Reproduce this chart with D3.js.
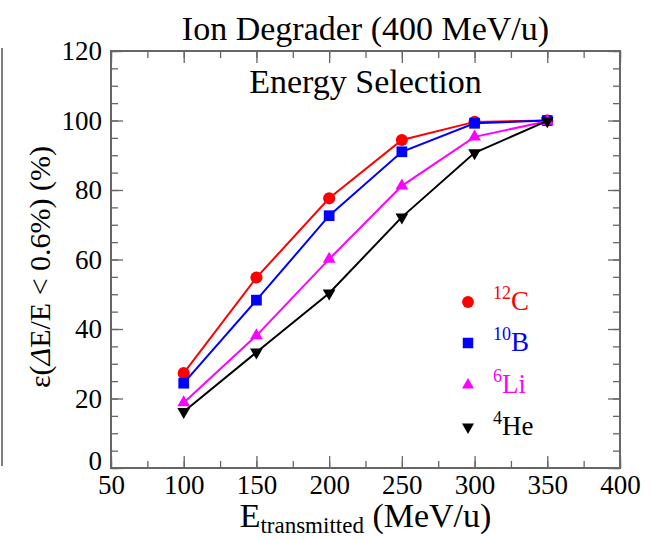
<!DOCTYPE html>
<html>
<head>
<meta charset="utf-8">
<script src="https://cdn.jsdelivr.net/npm/d3@7"></script>
<style>
  body { margin: 0; background: #fff; }
  #chart text { font-family: 'Liberation Serif', 'DejaVu Serif', serif; }
</style>
</head>
<body>
<svg id="chart" width="650" height="540"></svg>
<script>
// data
const energies = [100, 150, 200, 250, 300, 350]
const carbon   = [27.3, 54.8, 77.6, 94.4, 99.6, 100]
const boron    = [24.4, 48.3, 72.6, 91.0, 99.2, 100]
const lithium  = [18.8, 38.1, 60.1, 81.2, 95.3, 99.8]
const helium   = [16.2, 33.3, 50.3, 72.2, 90.7, 99.9]
const xTicks = [50, 100, 150, 200, 250, 300, 350, 400]
const yTicks = [0, 20, 40, 60, 80, 100, 120]

const series = [
  {mass: '12', el: 'C',  values: carbon,  color: '#ff0000', shape: d3.symbolCircle,   size: 115, rot: 0},
  {mass: '10', el: 'B',  values: boron,   color: '#0000ff', shape: d3.symbolSquare,   size: 115, rot: 0},
  {mass: '6',  el: 'Li', values: lithium, color: '#ff00ff', shape: d3.symbolTriangle, size: 70,  rot: 0},
  {mass: '4',  el: 'He', values: helium,  color: '#000000', shape: d3.symbolTriangle, size: 70,  rot: 180}
]

const svg = d3.select('#chart')
const pLeft = 111, pRight = 620, pTop = 51, pBottom = 468

const x = d3.scaleLinear().domain([50, 400]).range([pLeft, pRight])
const y = d3.scaleLinear().domain([0, 120]).range([pBottom, pTop])

const axisColor = '#666'

// stray edge of neighbouring panel
svg.append('line')
  .attr('x1', 2).attr('x2', 2).attr('y1', 48).attr('y2', 466)
  .attr('stroke', '#555').attr('stroke-width', 1.5)

// minor ticks on all sides
const minorX = d3.range(50, 401, 25)
const minorY = d3.range(0, 121, 5)
const addAxis = (axis, tx, ty) => {
  const g = svg.append('g').attr('transform', `translate(${tx},${ty})`).call(axis)
  g.select('.domain').remove()
  g.selectAll('line').attr('stroke', axisColor).attr('stroke-width', 1.3)
  return g
}
addAxis(d3.axisBottom(x).tickValues(minorX).tickSize(-7).tickFormat(''), 0, pBottom)
addAxis(d3.axisTop(x).tickValues(minorX).tickSize(-7).tickFormat(''), 0, pTop)
addAxis(d3.axisLeft(y).tickValues(minorY).tickSize(-7).tickFormat(''), pLeft, 0)
addAxis(d3.axisRight(y).tickValues(minorY).tickSize(-7).tickFormat(''), pRight, 0)

// major ticks
const xAxis = addAxis(d3.axisBottom(x).tickValues(xTicks).tickSize(-12).tickPadding(7), 0, pBottom)
const yAxis = addAxis(d3.axisLeft(y).tickValues(yTicks).tickSize(-12).tickPadding(9), pLeft, 0)
addAxis(d3.axisTop(x).tickValues(xTicks).tickSize(-12).tickFormat(''), 0, pTop)
addAxis(d3.axisRight(y).tickValues(yTicks).tickSize(-12).tickFormat(''), pRight, 0)

xAxis.attr('font-size', 27)
yAxis.attr('font-size', 27)
xAxis.selectAll('text').attr('fill', '#000')
yAxis.selectAll('text').attr('fill', '#000')
yAxis.selectAll('.tick').filter(d => d === 0).select('text').attr('dy', '0.05em')

// frame
svg.append('rect')
  .attr('x', pLeft).attr('y', pTop)
  .attr('width', pRight - pLeft).attr('height', pBottom - pTop)
  .attr('fill', 'none').attr('stroke', axisColor).attr('stroke-width', 2)

// lines and markers
const line = d3.line().x((d, i) => x(energies[i])).y(d => y(d))
series.forEach(s => {
  svg.append('path')
    .datum(s.values)
    .attr('d', line)
    .attr('fill', 'none')
    .attr('stroke', s.color)
    .attr('stroke-width', 2)
  svg.append('g').selectAll('path')
    .data(s.values)
    .join('path')
    .attr('d', d3.symbol(s.shape, s.size))
    .attr('transform', (d, i) => `translate(${x(energies[i])},${y(d)}) rotate(${s.rot})`)
    .attr('fill', s.color)
})

// legend
const legendY = [302, 343, 385, 427]
series.forEach((s, i) => {
  svg.append('path')
    .attr('d', d3.symbol(s.shape, s.shape === d3.symbolTriangle ? 62 : 110))
    .attr('transform', `translate(468,${legendY[i]}) rotate(${s.rot})`)
    .attr('fill', s.color)
  const t = svg.append('text')
    .attr('x', 493).attr('y', legendY[i] + 8)
    .attr('fill', s.color)
    .attr('font-size', 27)
  t.append('tspan').attr('font-size', 18).attr('dy', -11).text(s.mass)
  t.append('tspan').attr('dy', 11).text(s.el)
})

// titles
svg.append('text')
  .attr('x', (pLeft + pRight) / 2).attr('y', 40)
  .attr('text-anchor', 'middle').attr('font-size', 34)
  .text('Ion Degrader (400 MeV/u)')

svg.append('text')
  .attr('x', (pLeft + pRight) / 2).attr('y', 93)
  .attr('text-anchor', 'middle').attr('font-size', 34)
  .text('Energy Selection')

// y label
const yl = svg.append('text')
  .attr('transform', 'translate(50,267) rotate(-90)')
  .attr('text-anchor', 'middle').attr('font-size', 30)
yl.append('tspan').text('ε(')
yl.append('tspan').attr('font-style', 'italic').text('Δ')
yl.append('tspan').text('E/E < 0.6%) (%)')

// x label
const xl = svg.append('text')
  .attr('x', (pLeft + pRight) / 2).attr('y', 527)
  .attr('text-anchor', 'middle').attr('font-size', 34)
xl.append('tspan').text('E')
xl.append('tspan').attr('font-size', 23).attr('dy', 6).text('transmitted')
xl.append('tspan').attr('dy', -6).text(' (MeV/u)')
</script>
</body>
</html>
